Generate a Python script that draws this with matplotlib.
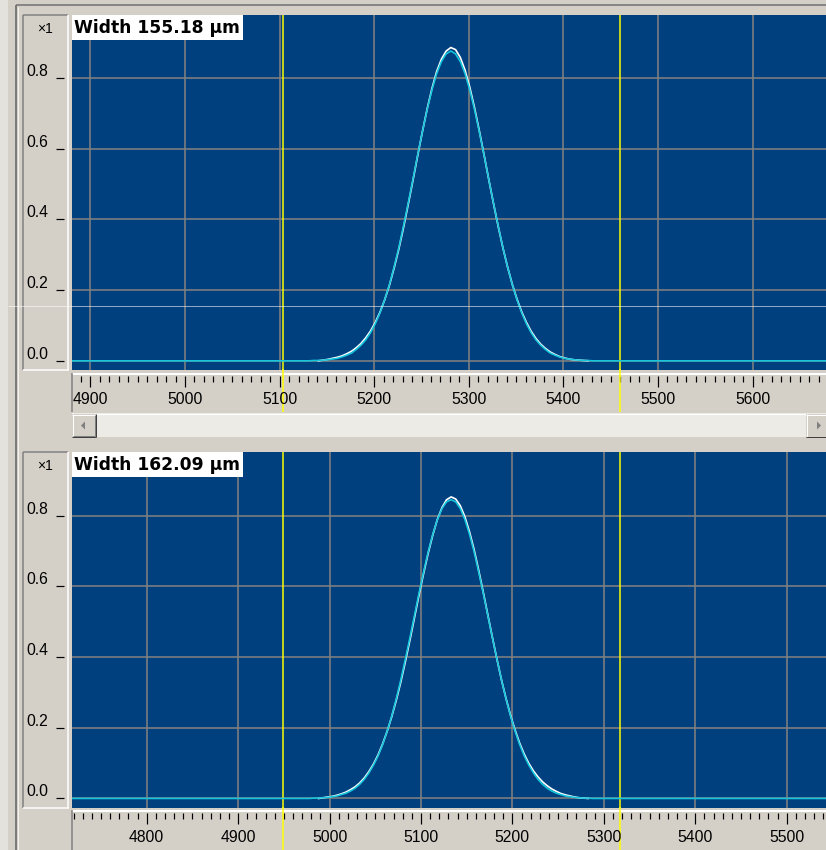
import numpy as np
import matplotlib
matplotlib.use("Agg")
import matplotlib.pyplot as plt
from matplotlib.patches import Rectangle, Polygon
from matplotlib.lines import Line2D
from matplotlib.transforms import blended_transform_factory

# ---------------- data ----------------
top_title = "Width 155.18 µm"
bottom_title = "Width 162.09 µm"
y_tick_values = [0.0, 0.2, 0.4, 0.6, 0.8]
y_tick_labels = ["0.0", "0.2", "0.4", "0.6", "0.8"]
scale_label = "×1"

top_x_labels = [4900, 5000, 5100, 5200, 5300, 5400, 5500, 5600]
bottom_x_labels = [4800, 4900, 5000, 5100, 5200, 5300, 5400, 5500]
top_xlim = (4880.5, 5677.6)
bottom_xlim = (4718.3, 5543.0)
top_markers = [5103.8, 5459.8]
bottom_markers = [4949.4, 5317.7]

# top profile: measured (white) and gaussian fit (cyan)
top_meas_x = np.arange(5141, 5427, 5)
top_meas_y = [0.000, 0.002, 0.004, 0.007, 0.010, 0.014, 0.020, 0.027, 0.037, 0.049,
              0.065, 0.084, 0.108, 0.137, 0.172, 0.213, 0.262, 0.316, 0.377, 0.443,
              0.511, 0.581, 0.649, 0.713, 0.770, 0.818, 0.853, 0.876, 0.886, 0.880,
              0.858, 0.822, 0.774, 0.716, 0.652, 0.584, 0.514, 0.446, 0.381, 0.320,
              0.265, 0.216, 0.174, 0.138, 0.108, 0.083, 0.063, 0.047, 0.035, 0.025,
              0.018, 0.012, 0.008, 0.005, 0.003, 0.002, 0.001, 0.000]
top_fit_x = np.concatenate(([4880.0], np.arange(5131, 5432, 5), [5680.0]))
top_fit_y = [0.0,
             0.000, 0.001, 0.001, 0.002, 0.003, 0.005, 0.007, 0.011, 0.016, 0.022,
             0.032, 0.044, 0.059, 0.079, 0.104, 0.135, 0.172, 0.215, 0.265, 0.320,
             0.382, 0.447, 0.514, 0.583, 0.649, 0.711, 0.766, 0.812, 0.846, 0.868,
             0.876,
             0.868, 0.846, 0.812, 0.766, 0.711, 0.649, 0.583, 0.514, 0.447, 0.382,
             0.320, 0.265, 0.215, 0.172, 0.135, 0.104, 0.079, 0.059, 0.044, 0.032,
             0.022, 0.016, 0.011, 0.007, 0.005, 0.003, 0.002, 0.001, 0.001, 0.000,
             0.0]

# bottom profile
bottom_meas_x = np.arange(4988, 5284, 5)
bottom_meas_y = [0.000, 0.002, 0.004, 0.006, 0.009, 0.013, 0.018, 0.025, 0.033, 0.044,
                 0.058, 0.076, 0.097, 0.123, 0.154, 0.190, 0.231, 0.278, 0.330, 0.388,
                 0.449, 0.513, 0.577, 0.638, 0.695, 0.746, 0.790, 0.823, 0.845, 0.853,
                 0.847, 0.828, 0.797, 0.755, 0.705, 0.647, 0.585, 0.521, 0.457, 0.395,
                 0.336, 0.283, 0.235, 0.193, 0.156, 0.125, 0.099, 0.078, 0.061, 0.047,
                 0.036, 0.027, 0.020, 0.014, 0.010, 0.007, 0.004, 0.002, 0.001, 0.000]
bottom_fit_x = np.concatenate(([4718.0], np.arange(4978, 5289, 5), [5545.0]))
bottom_fit_y = [0.0,
                0.000, 0.001, 0.001, 0.002, 0.003, 0.005, 0.007, 0.011, 0.015, 0.021,
                0.029, 0.040, 0.054, 0.072, 0.094, 0.120, 0.152, 0.190, 0.233, 0.282,
                0.336, 0.395, 0.456, 0.519, 0.582, 0.642, 0.699, 0.748, 0.789, 0.820,
                0.839,
                0.845,
                0.839, 0.820, 0.789, 0.748, 0.699, 0.642, 0.582, 0.519, 0.456, 0.395,
                0.336, 0.282, 0.233, 0.190, 0.152, 0.120, 0.094, 0.072, 0.054, 0.040,
                0.029, 0.021, 0.015, 0.011, 0.007, 0.005, 0.003, 0.002, 0.001, 0.001,
                0.000,
                0.0]

# ---------------- styling ----------------
W, H, DPI = 826, 850, 100
PX = 72.0 / DPI
GRAY = "#d4d0c8"
BLUE = "#00407f"
CYAN = "#14c6dc"
YEL = "#ffff00"
GRID = "#808080"
SANS = ["Liberation Sans", "DejaVu Sans"]

fig = plt.figure(figsize=(W / DPI, H / DPI), dpi=DPI)
fig.patch.set_facecolor(GRAY)


def box(x0, y0, x1, y1):
    return [x0 / W, 1 - y1 / H, (x1 - x0) / W, (y1 - y0) / H]


def fline(xs, ys, color, lw_px=1.0, z=10, alpha=1.0):
    fig.add_artist(Line2D([x / W for x in xs], [1 - y / H for y in ys],
                          transform=fig.transFigure, color=color, lw=lw_px * PX,
                          zorder=z, alpha=alpha, solid_capstyle="butt"))


def frect(x0, y0, x1, y1, fc, z=1):
    fig.add_artist(Rectangle((x0 / W, 1 - y1 / H), (x1 - x0) / W, (y1 - y0) / H,
                             transform=fig.transFigure, facecolor=fc,
                             edgecolor="none", zorder=z))


def ftext(x, y, s, **kw):
    fig.text(x / W, 1 - y / H, s, **kw)


# window chrome
frect(0, 0, 8, H, "#e4e2dc", z=0.5)
fline([16, 16], [5, H], "#7a7a7a", 2, z=3)
fline([16, W], [5, 5], "#6e6e6e", 1.5, z=3)
fline([18, 18], [7, H], "#f4f3f0", 1, z=3)


def panel(py0, py1, ry0, ry1, xlim, ylim, xticks, markers,
          mx, my, fx, fy, title, label_y, minor_start):
    ax = fig.add_axes(box(72, py0, 826, py1))
    ax.set_facecolor(BLUE)
    ax.set_xlim(xlim)
    ax.set_ylim(ylim)
    ax.set_xticks(xticks)
    ax.set_yticks(y_tick_values)
    ax.tick_params(length=0, labelbottom=False, labelleft=False)
    for s in ax.spines.values():
        s.set_visible(False)
    ax.grid(True, color=GRID, lw=1.6 * PX)
    ax.set_axisbelow(True)
    for m in markers:
        ax.axvline(m, color=YEL, lw=1.5 * PX, zorder=2)
    ax.plot(mx, my, color="white", lw=1.7 * PX, zorder=3)
    ax.plot(fx, fy, color=CYAN, lw=1.6 * PX, zorder=4)

    # ruler
    rx = fig.add_axes(box(72, ry0, 826, ry1))
    rx.set_facecolor(GRAY)
    rx.set_xlim(xlim)
    rx.set_ylim(0, 1)
    for s in rx.spines.values():
        s.set_visible(False)
    rx.set_xticks(xticks)
    rx.set_xticks(np.arange(minor_start, xlim[1], 10), minor=True)
    rx.set_yticks([])
    rx.xaxis.set_ticks_position("top")
    rx.tick_params(which="major", direction="in", length=11 * PX, width=1.2 * PX,
                   color="black", labeltop=False, labelbottom=False)
    rx.tick_params(which="minor", direction="in", length=6 * PX, width=1.2 * PX,
                   color="black")
    for m in markers:
        rx.axvline(m, color=YEL, lw=1.5 * PX, zorder=3)
    trans = blended_transform_factory(rx.transData, fig.transFigure)
    for v in xticks:
        rx.text(v, 1 - label_y / H, str(v), transform=trans, ha="center",
                va="center", fontsize=11.3, family=SANS, color="black",
                clip_on=False)

    # ruler highlight and left edge
    fline([72, 826], [ry0 - 2, ry0 - 2], "white", 2, z=11)
    fline([72, 72], [ry0 - 3, ry1], "#808080", 1.5, z=11)
    for m in markers:
        xp = 72 + (m - xlim[0]) / (xlim[1] - xlim[0]) * 754
        fline([xp, xp], [py1 - 1, ry0 + 1], YEL, 1.5, z=12)

    # y-label box
    frect(23, py0, 68, py1, GRAY, z=1)
    fline([23, 68], [py0, py0], "#808080", 1.5, z=3)
    fline([23, 23], [py0, py1], "#808080", 1.5, z=3)
    fline([23, 69], [py1, py1], "#ffffff", 1.5, z=3)
    fline([68, 68], [py0, py1], "#ffffff", 1.5, z=3)
    ftext(45, py0 + 14, scale_label, ha="center", va="center", fontsize=10,
          family=SANS, color="black")
    for v, lab in zip(y_tick_values, y_tick_labels):
        gy = py0 + (ylim[1] - v) / (ylim[1] - ylim[0]) * (py1 - py0)
        ftext(26, gy - 2, lab, ha="left", va="baseline", fontsize=11.3,
              family=SANS, color="black")
        fline([56, 64], [gy, gy], "black", 1.2, z=4)

    # title box
    frect(72, py0, 243, py0 + 25, "white", z=5)
    ftext(74, py0 + 13, title, ha="left", va="center", fontsize=12.3,
          fontweight="bold", family="DejaVu Sans", color="black", zorder=6)
    return ax


panel(15, 370, 376, 412, (-0.026, 0.978)[::-1][::-1] and top_xlim, (-0.026, 0.978),
      top_x_labels, top_markers, top_meas_x, top_meas_y, top_fit_x, top_fit_y,
      top_title, 400, 4890)
panel(452, 808, 813, 850, bottom_xlim, (-0.027, 0.980),
      bottom_x_labels, bottom_markers, bottom_meas_x, bottom_meas_y,
      bottom_fit_x, bottom_fit_y, bottom_title, 838, 4720)

# scrollbar
frect(72, 413, 826, 437, "#ecebe6", z=2)
fline([72, 826], [413.5, 413.5], "white", 1, z=3)
# left button
frect(72, 414, 96, 437, GRAY, z=3)
fline([72, 96], [414.5, 414.5], "white", 1, z=4)
fline([72.5, 72.5], [414, 437], "white", 1, z=4)
fline([72, 96], [436.5, 436.5], "#404040", 1, z=4)
fline([95.5, 95.5], [414, 437], "#404040", 1, z=4)
fline([73, 95], [435.5, 435.5], "#808080", 1, z=4)
fline([94.5, 94.5], [415, 436], "#808080", 1, z=4)
fig.add_artist(Polygon([(81 / W, 1 - 425.5 / H), (85 / W, 1 - 421.5 / H), (85 / W, 1 - 429.5 / H)],
                       closed=True, transform=fig.transFigure, facecolor="#808080",
                       edgecolor="none", zorder=5))
# right button
frect(806, 414, 826, 437, GRAY, z=3)
fline([806, 826], [414.5, 414.5], "white", 1, z=4)
fline([806.5, 806.5], [414, 437], "white", 1, z=4)
fline([806, 826], [436.5, 436.5], "#404040", 1, z=4)
fig.add_artist(Polygon([(821 / W, 1 - 425.5 / H), (817 / W, 1 - 421.5 / H), (817 / W, 1 - 429.5 / H)],
                       closed=True, transform=fig.transFigure, facecolor="#808080",
                       edgecolor="none", zorder=5))

# faint horizontal artefact line
fline([8, 826], [305.5, 305.5], "white", 1, z=20, alpha=0.55)

fig.savefig("out.png", dpi=DPI, facecolor=GRAY)
